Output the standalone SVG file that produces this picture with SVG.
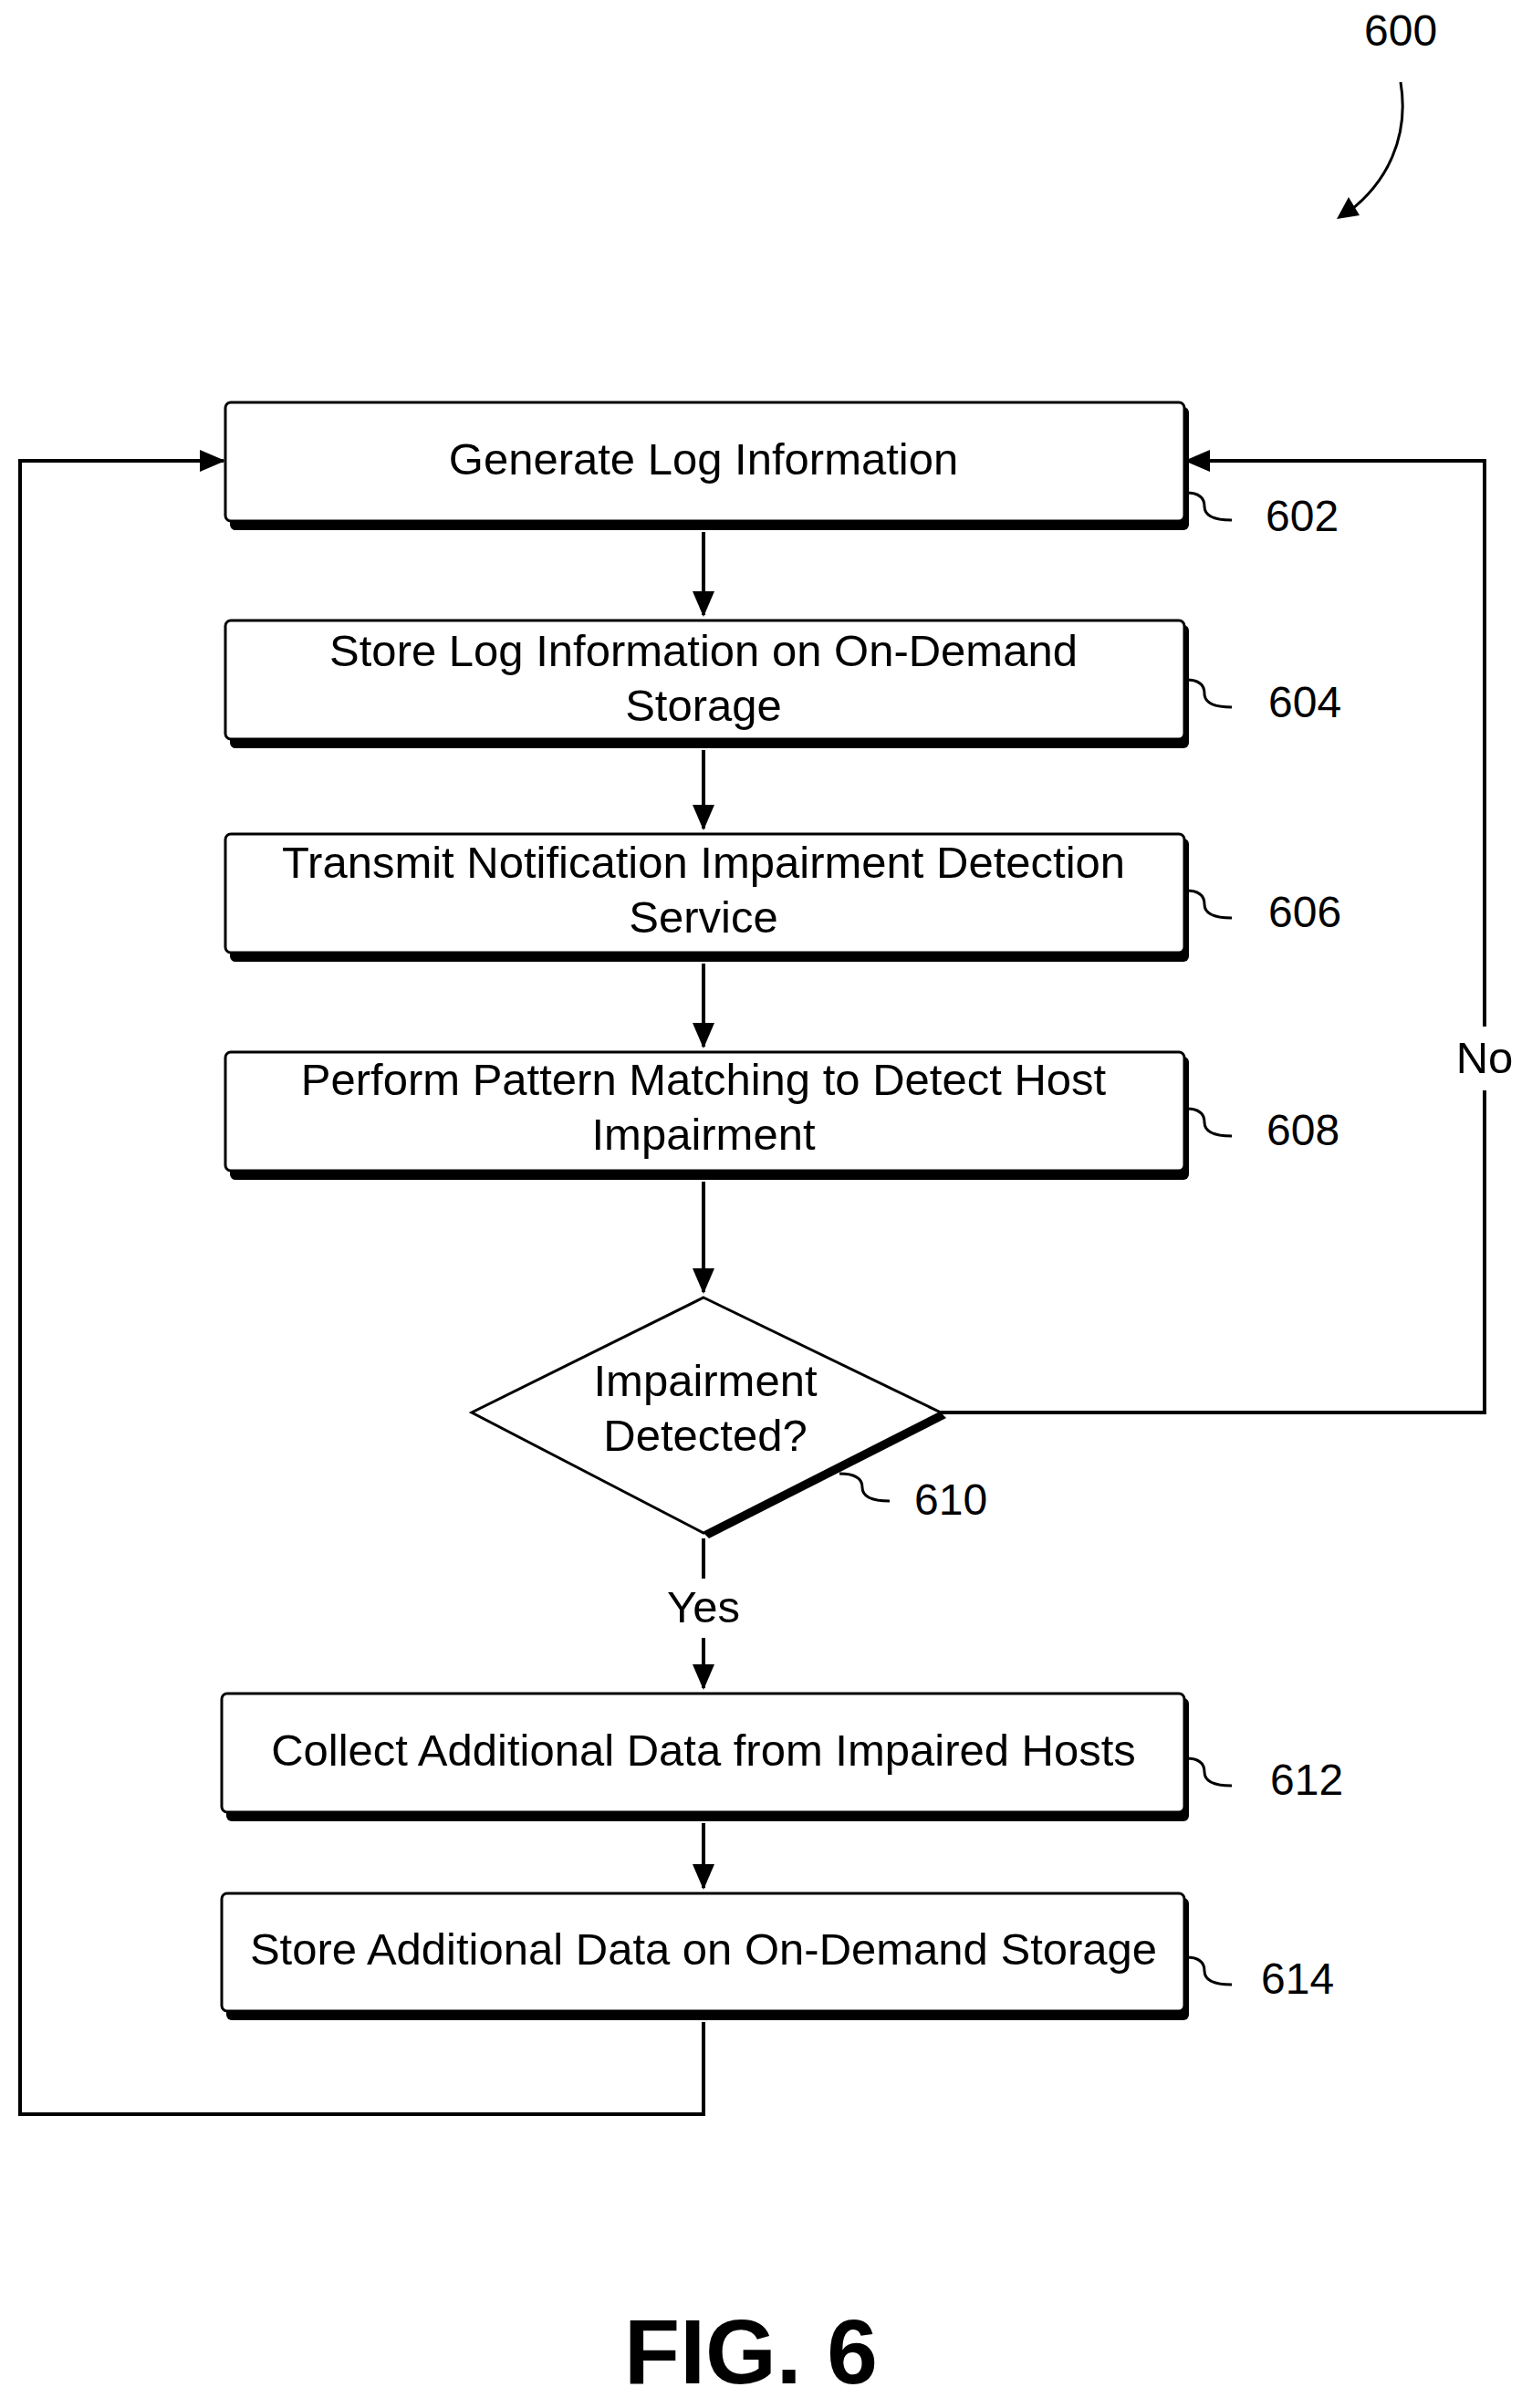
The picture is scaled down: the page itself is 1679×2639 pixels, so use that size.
<svg xmlns="http://www.w3.org/2000/svg" width="1679" height="2639" viewBox="0 0 1679 2639">
<style>
.b{fill:#fff;stroke:#000;stroke-width:3}
.s{fill:#000}
.t{font-family:"Liberation Sans",Arial,sans-serif;font-size:49px;text-anchor:middle;fill:#000}
.l{font-family:"Liberation Sans",Arial,sans-serif;font-size:48px;fill:#000}
.c{fill:none;stroke:#000;stroke-width:4}
.q{fill:none;stroke:#000;stroke-width:3}
</style>
<defs>
<marker id="m" markerWidth="28" markerHeight="28" refX="26" refY="14" orient="auto" markerUnits="userSpaceOnUse"><path d="M0,2L28,14L0,26z"/></marker></defs>
<rect width="1679" height="2639" fill="#fff"/>
<g id="n600"><text class="l" x="1495" y="50">600</text><path class="q" d="M1535,90 C1545,150 1520,200 1478,232"/><path d="M1465,240 L1478,216 L1490,236z"/></g>
<g id="n602"><rect class="s" x="252" y="446" width="1051" height="135" rx="6"/><rect class="b" x="247" y="441" width="1051" height="130" rx="6"/><text class="t" x="771" y="520">Generate Log Information</text><path class="q" d="M1300,540 q20,0 20,15 q0,15 30,15"/><text class="l" x="1387" y="582">602</text></g>
<g id="n604"><rect class="s" x="252" y="685" width="1051" height="135" rx="6"/><rect class="b" x="247" y="680" width="1051" height="130" rx="6"/><text class="t" x="771" y="730">Store Log Information on On-Demand</text><text class="t" x="771" y="790">Storage</text><path class="q" d="M1300,745 q20,0 20,15 q0,15 30,15"/><text class="l" x="1390" y="786">604</text></g>
<g id="n606"><rect class="s" x="252" y="919" width="1051" height="135" rx="6"/><rect class="b" x="247" y="914" width="1051" height="130" rx="6"/><text class="t" x="771" y="962">Transmit Notification Impairment Detection</text><text class="t" x="771" y="1022">Service</text><path class="q" d="M1300,976 q20,0 20,15 q0,15 30,15"/><text class="l" x="1390" y="1016">606</text></g>
<g id="n608"><rect class="s" x="252" y="1158" width="1051" height="135" rx="6"/><rect class="b" x="247" y="1153" width="1051" height="130" rx="6"/><text class="t" x="771" y="1200">Perform Pattern Matching to Detect Host</text><text class="t" x="771" y="1260">Impairment</text><path class="q" d="M1300,1215 q20,0 20,15 q0,15 30,15"/><text class="l" x="1388" y="1255">608</text></g>
<g id="n610"><path d="M1031,1548 L771,1680 L777,1686 L1037,1554z" class="s"/><path class="b" d="M771,1422 L1031,1548 L771,1680 L517,1548z"/><text class="t" x="773" y="1530">Impairment</text><text class="t" x="773" y="1590">Detected?</text><path class="q" d="M920,1615 q25,0 25,15 q0,15 30,15"/><text class="l" x="1002" y="1660">610</text></g>
<g id="n612"><rect class="s" x="248" y="1861" width="1055" height="135" rx="6"/><rect class="b" x="243" y="1856" width="1055" height="130" rx="6"/><text class="t" x="771" y="1935">Collect Additional Data from Impaired Hosts</text><path class="q" d="M1300,1927 q20,0 20,15 q0,15 30,15"/><text class="l" x="1392" y="1967">612</text></g>
<g id="n614"><rect class="s" x="248" y="2080" width="1055" height="134" rx="6"/><rect class="b" x="243" y="2075" width="1055" height="129" rx="6"/><text class="t" x="771" y="2153">Store Additional Data on On-Demand Storage</text><path class="q" d="M1300,2145 q20,0 20,15 q0,15 30,15"/><text class="l" x="1382" y="2185">614</text></g>
<g id="connectors">
<path class="c" d="M771,583 V674" marker-end="url(#m)"/>
<path class="c" d="M771,822 V908" marker-end="url(#m)"/>
<path class="c" d="M771,1056 V1147" marker-end="url(#m)"/>
<path class="c" d="M771,1295 V1416" marker-end="url(#m)"/>
<path class="c" d="M771,1686 V1730 M771,1795 V1850" marker-end="url(#m)"/>
<path class="c" d="M771,1998 V2069" marker-end="url(#m)"/>
<path class="c" d="M1031,1548 H1627 V1195 M1627,1125 V505 H1300" marker-end="url(#m)"/>
<path class="c" d="M771,2216 V2317 H22 V505 H245" marker-end="url(#m)"/>
<text class="t" x="1627" y="1176">No</text>
<text class="t" x="771" y="1778">Yes</text>
</g>
<text x="823" y="2612" font-family="Liberation Sans,Arial,sans-serif" font-size="100" font-weight="bold" text-anchor="middle">FIG. 6</text>
</svg>
